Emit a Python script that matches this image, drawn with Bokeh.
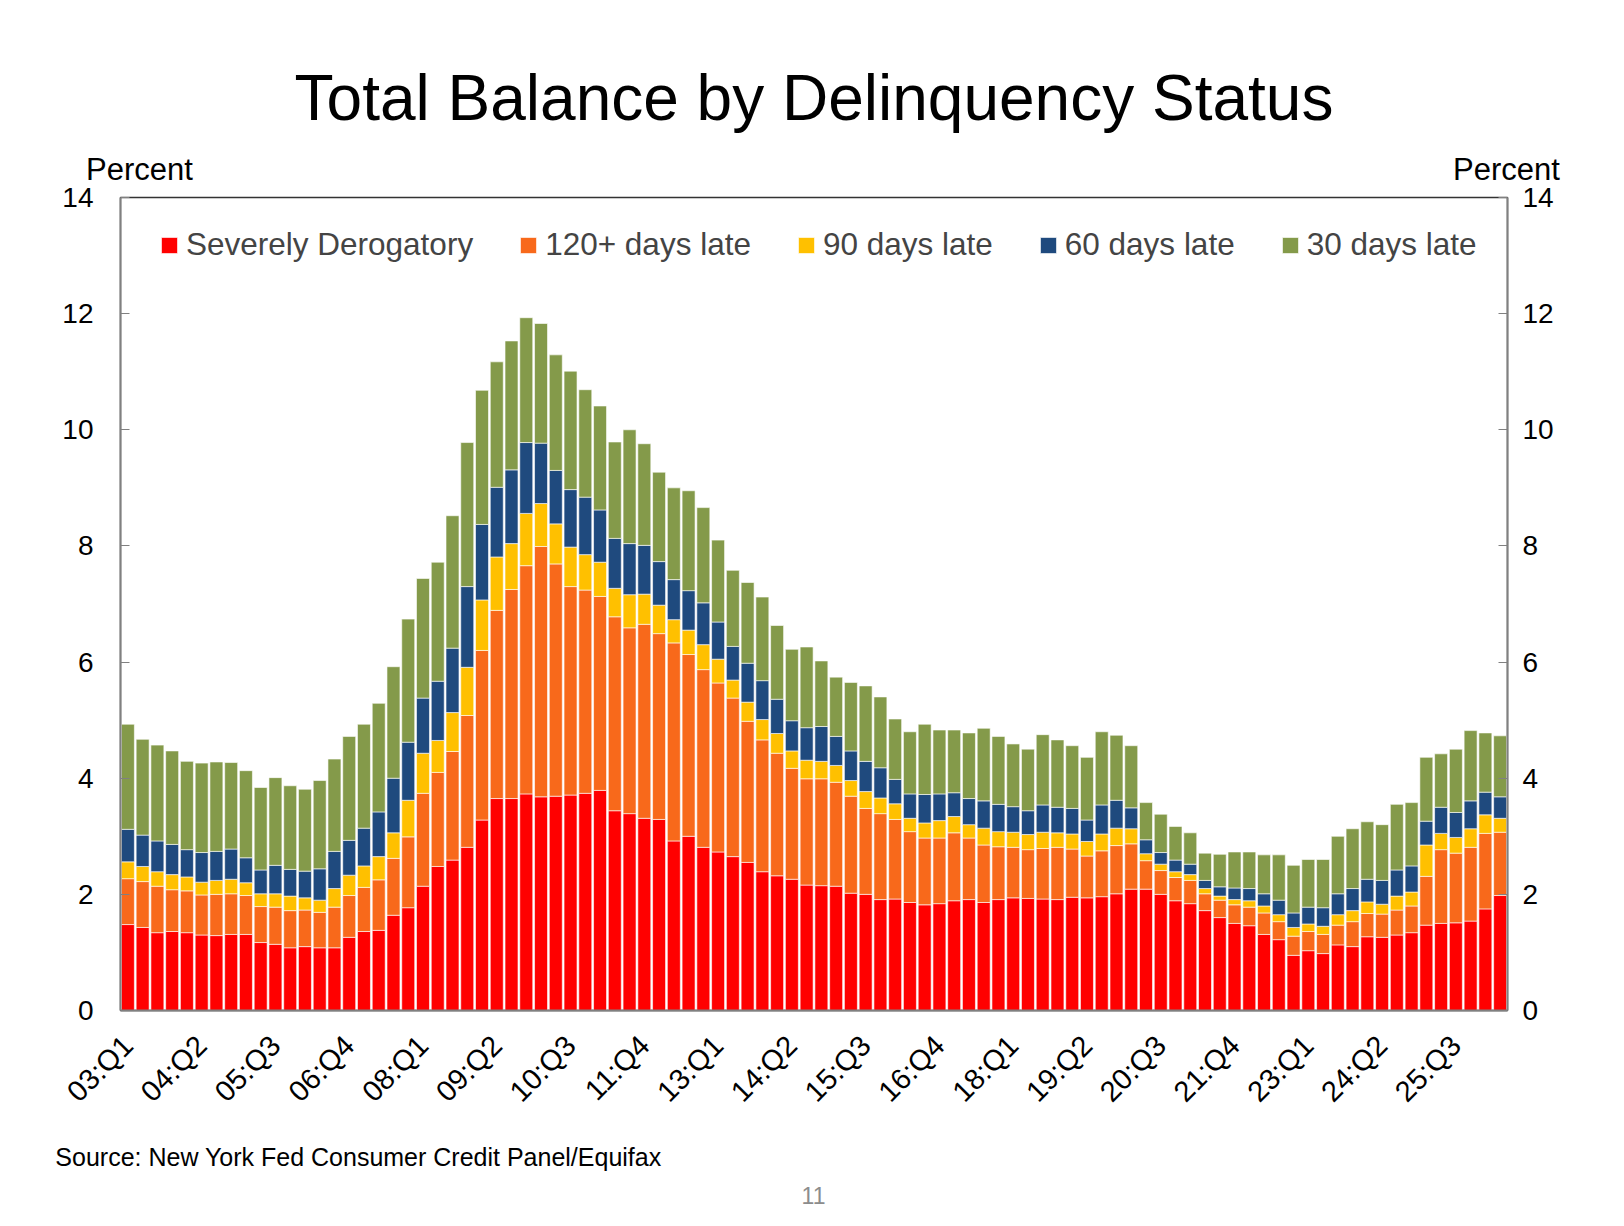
import math

from bokeh.embed import file_html
from bokeh.models import ColumnDataSource, FixedTicker, LinearAxis, Range1d
from bokeh.plotting import figure
from bokeh.resources import INLINE

# Share of total balance by delinquency status, percent, 03:Q1 onward
severe = [1.48, 1.43, 1.34, 1.36, 1.34, 1.30, 1.29, 1.31, 1.31, 1.17,
          1.14, 1.08, 1.10, 1.08, 1.08, 1.26, 1.36, 1.38, 1.64, 1.77,
          2.14, 2.48, 2.59, 2.81, 3.28, 3.65, 3.65, 3.73, 3.68, 3.69,
          3.71, 3.74, 3.79, 3.44, 3.39, 3.31, 3.29, 2.92, 3.00, 2.81,
          2.73, 2.65, 2.55, 2.39, 2.32, 2.26, 2.16, 2.15, 2.14, 2.02,
          2.00, 1.91, 1.92, 1.86, 1.82, 1.84, 1.89, 1.91, 1.86, 1.91,
          1.94, 1.93, 1.92, 1.91, 1.95, 1.94, 1.96, 2.01, 2.09, 2.09,
          2.00, 1.89, 1.84, 1.72, 1.60, 1.50, 1.46, 1.31, 1.22, 0.95,
          1.03, 0.98, 1.13, 1.10, 1.27, 1.26, 1.30, 1.34, 1.47, 1.50,
          1.51, 1.54, 1.75, 1.98]
late120 = [0.79, 0.79, 0.80, 0.72, 0.72, 0.69, 0.71, 0.70, 0.67, 0.62,
           0.64, 0.64, 0.63, 0.61, 0.70, 0.72, 0.76, 0.87, 0.98, 1.22,
           1.60, 1.62, 1.87, 2.27, 2.92, 3.24, 3.60, 3.93, 4.31, 4.00,
           3.59, 3.50, 3.34, 3.34, 3.20, 3.34, 3.20, 3.41, 3.13, 3.06,
           2.91, 2.73, 2.43, 2.27, 2.11, 1.91, 1.83, 1.84, 1.79, 1.67,
           1.48, 1.48, 1.37, 1.22, 1.15, 1.13, 1.17, 1.06, 0.99, 0.91,
           0.87, 0.84, 0.87, 0.90, 0.83, 0.72, 0.79, 0.83, 0.78, 0.49,
           0.41, 0.40, 0.40, 0.29, 0.30, 0.32, 0.32, 0.37, 0.31, 0.33,
           0.33, 0.33, 0.34, 0.43, 0.40, 0.40, 0.43, 0.46, 0.84, 1.27,
           1.20, 1.27, 1.30, 1.09]
late90 = [0.29, 0.26, 0.25, 0.26, 0.24, 0.22, 0.24, 0.25, 0.22, 0.22,
          0.23, 0.25, 0.21, 0.21, 0.32, 0.35, 0.37, 0.40, 0.44, 0.63,
          0.69, 0.55, 0.67, 0.83, 0.87, 0.92, 0.79, 0.90, 0.74, 0.69,
          0.68, 0.61, 0.59, 0.49, 0.57, 0.52, 0.49, 0.40, 0.42, 0.43,
          0.41, 0.31, 0.33, 0.35, 0.34, 0.30, 0.32, 0.30, 0.29, 0.27,
          0.29, 0.27, 0.27, 0.23, 0.26, 0.30, 0.28, 0.23, 0.29, 0.26,
          0.26, 0.26, 0.28, 0.25, 0.26, 0.25, 0.29, 0.30, 0.26, 0.12,
          0.11, 0.10, 0.10, 0.09, 0.07, 0.09, 0.11, 0.12, 0.12, 0.15,
          0.13, 0.14, 0.18, 0.19, 0.20, 0.17, 0.24, 0.24, 0.54, 0.28,
          0.27, 0.32, 0.32, 0.24]
late60 = [0.56, 0.54, 0.53, 0.52, 0.47, 0.51, 0.50, 0.52, 0.43, 0.41,
          0.49, 0.46, 0.46, 0.54, 0.64, 0.60, 0.65, 0.77, 0.94, 1.00,
          0.95, 1.02, 1.11, 1.39, 1.30, 1.20, 1.27, 1.22, 1.04, 0.92,
          0.99, 0.99, 0.90, 0.86, 0.88, 0.84, 0.75, 0.69, 0.68, 0.72,
          0.64, 0.58, 0.67, 0.67, 0.59, 0.52, 0.56, 0.60, 0.50, 0.51,
          0.52, 0.52, 0.42, 0.42, 0.49, 0.46, 0.41, 0.45, 0.47, 0.47,
          0.44, 0.41, 0.47, 0.44, 0.44, 0.37, 0.50, 0.48, 0.36, 0.24,
          0.20, 0.20, 0.18, 0.14, 0.16, 0.20, 0.21, 0.21, 0.25, 0.25,
          0.29, 0.32, 0.36, 0.38, 0.39, 0.41, 0.45, 0.45, 0.41, 0.45,
          0.43, 0.48, 0.39, 0.37]
late30 = [1.81, 1.65, 1.65, 1.61, 1.52, 1.54, 1.54, 1.49, 1.50, 1.42,
          1.51, 1.44, 1.41, 1.52, 1.59, 1.79, 1.79, 1.87, 1.92, 2.12,
          2.06, 2.05, 2.28, 2.48, 2.31, 2.16, 2.22, 2.15, 2.06, 1.99,
          2.04, 1.85, 1.79, 1.66, 1.96, 1.75, 1.54, 1.58, 1.72, 1.64,
          1.41, 1.31, 1.39, 1.44, 1.27, 1.23, 1.39, 1.13, 1.02, 1.18,
          1.30, 1.22, 1.04, 1.07, 1.21, 1.10, 1.08, 1.13, 1.25, 1.17,
          1.08, 1.06, 1.21, 1.16, 1.08, 1.08, 1.26, 1.12, 1.07, 0.64,
          0.66, 0.58, 0.54, 0.47, 0.56, 0.62, 0.63, 0.67, 0.78, 0.82,
          0.82, 0.83, 0.99, 1.03, 0.99, 0.96, 1.13, 1.09, 1.10, 0.92,
          1.09, 1.21, 1.02, 1.05]

quarters = [f"{yr:02d}:Q{q}" for yr in range(3, 27) for q in range(1, 5)][:len(severe)]
tick_every = 5

series = ["severe", "late120", "late90", "late60", "late30"]
names = ["Severely Derogatory", "120+ days late", "90 days late",
         "60 days late", "30 days late"]
colors = ["#FF0000", "#F8691B", "#FFC000", "#1F4A7E", "#849A4A"]

title = "Total Balance by Delinquency Status"
unit = "Percent"
note = "Source: New York Fed Consumer Credit Panel/Equifax"
page_no = "11"

FONT = "Liberation Sans"

source = ColumnDataSource(dict(
    x=list(range(len(quarters))),
    severe=severe, late120=late120, late90=late90,
    late60=late60, late30=late30,
))

p = figure(
    width=1616, height=1218,
    x_range=Range1d(-0.5, len(quarters) - 0.5),
    y_range=Range1d(0, 14),
    output_backend="svg", toolbar_location=None,
    min_border_left=120, min_border_right=109,
    min_border_top=197, min_border_bottom=208,
)
p.background_fill_color = "white"
p.border_fill_color = "white"
p.outline_line_color = "#333333"
p.outline_line_width = 1.3
p.xgrid.visible = False
p.ygrid.visible = False

# pixel-like range across the frame, used to place the side texts
p.extra_x_ranges = {"page": Range1d(120, 1507)}

p.title.text = title
p.title.align = "center"
p.title.text_font = FONT
p.title.text_font_size = "64px"
p.title.text_font_style = "normal"
p.title.text_color = "black"
p.title.standoff = 30

p.vbar_stack(series, x="x", width=0.88, source=source, color=colors,
             line_color="white", line_alpha=0.6, line_width=1,
             legend_label=names)

# value axes, left and right
yticks = FixedTicker(ticks=list(range(0, 15, 2)))
yl = p.yaxis[0]
yr = LinearAxis(ticker=yticks)
p.add_layout(yr, "right")
for ax, standoff in ((yl, 27), (yr, 15)):
    ax.ticker = yticks
    ax.major_tick_in = 9
    ax.major_tick_out = 0
    ax.minor_tick_line_color = None
    ax.major_tick_line_color = "#808080"
    ax.axis_line_color = "#808080"
    ax.axis_line_width = 2
    ax.major_label_standoff = standoff
    ax.major_label_text_font = FONT
    ax.major_label_text_font_size = "28px"
    ax.major_label_text_color = "black"

# quarter axis
xa = p.xaxis[0]
xa.ticker = FixedTicker(ticks=list(range(0, len(quarters), tick_every)))
xa.major_label_overrides = {i: quarters[i] for i in range(0, len(quarters), tick_every)}
xa.major_label_orientation = math.pi / 4
xa.major_tick_line_color = None
xa.minor_tick_line_color = None
xa.axis_line_color = "#808080"
xa.axis_line_width = 2
xa.major_label_standoff = 24
xa.major_label_text_font = FONT
xa.major_label_text_font_size = "29px"
xa.major_label_text_color = "black"


def text_axis(side, pos, labels, standoff, size, color="black"):
    ax = LinearAxis(x_range_name="page", ticker=FixedTicker(ticks=pos),
                    major_label_overrides=dict(zip(pos, labels)))
    ax.axis_line_color = None
    ax.major_tick_line_color = None
    ax.minor_tick_line_color = None
    ax.major_tick_in = 0
    ax.major_tick_out = 0
    ax.minor_tick_out = 0
    ax.major_label_standoff = standoff
    ax.major_label_text_font = FONT
    ax.major_label_text_font_size = size
    ax.major_label_text_color = color
    p.add_layout(ax, side)


text_axis("above", [139, 1506], [unit, unit], 11, "31px")
text_axis("below", [358], [note], 21, "25px")
text_axis("below", [813], [page_no], 13, "23px", "#8C8C8C")

# legend
lg = p.legend[0]
lg.orientation = "horizontal"
lg.location = (39, 747)
lg.padding = 0
lg.spacing = 45
lg.glyph_width = 20
lg.glyph_height = 20
lg.label_height = 36
lg.label_standoff = 7
lg.label_text_font = FONT
lg.label_text_font_size = "31.5px"
lg.background_fill_alpha = 0
lg.border_line_color = None

open("out.html", "w").write(file_html(p, INLINE))
